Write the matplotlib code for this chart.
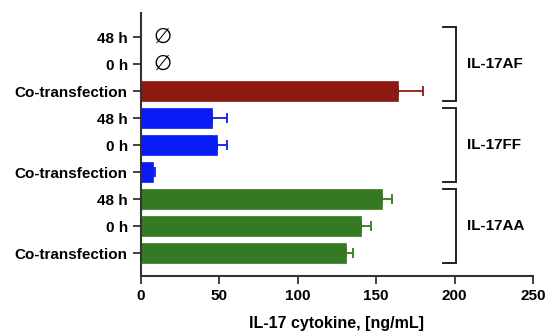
import matplotlib
matplotlib.use("Agg")
import matplotlib.pyplot as plt

# rows from bottom to top
row_labels = ["Co-transfection", "0 h", "48 h",
              "Co-transfection", "0 h", "48 h",
              "Co-transfection", "0 h", "48 h"]
aa_means = [131, 140, 154]
aa_errs = [4.5, 6.5, 6]
ff_means = [7.7, 48.3, 45.3]
ff_errs = [1.5, 6.5, 9.5]
af_means = [164]
af_errs = [16]
groups = ["IL-17AA", "IL-17FF", "IL-17AF"]
missing_rows = [7, 8]  # AF 0 h and 48 h, no data

plt.rcParams['font.family'] = ['Liberation Sans', 'DejaVu Sans']
plt.rcParams['font.weight'] = 'bold'

fig = plt.figure(figsize=(5.52, 3.33), dpi=100)
ax = fig.add_axes([0.2554, 0.171, 0.7102, 0.79])

series = [(aa_means, aa_errs, "#357a22", 0),
          (ff_means, ff_errs, "#0a1cf5", 3),
          (af_means, af_errs, "#8c1a12", 6)]
for means, errs, col, start in series:
    ys = list(range(start, start + len(means)))
    ax.barh(ys, means, height=0.76, color=col, edgecolor=col, linewidth=0.5)
    ax.errorbar(means, ys, xerr=[[0] * len(errs), errs], fmt='none',
                ecolor=col, elinewidth=1.3, capsize=3.5, capthick=1.3)

for r in missing_rows:
    ax.text(14, r, "\u2205", ha='center', va='center', fontsize=15,
            fontweight='normal', family='DejaVu Sans')

# group brackets on the right
for i, g in enumerate(groups):
    c = 3 * i + 1
    lo, hi = c - 1.37, c + 1.37
    ax.plot([192.7, 201, 201, 192.7], [hi, hi, lo, lo], color='#222222',
            lw=1.4, clip_on=False, solid_joinstyle='miter')
    ax.text(208, c, g, ha='left', va='center', fontsize=11,
            fontweight='bold', clip_on=False)

ax.set_xlim(0, 250)
ax.set_ylim(-0.85, 8.89)
ax.set_xticks([0, 50, 100, 150, 200, 250])
ax.set_yticks(range(len(row_labels)))
ax.set_yticklabels(row_labels)
ax.tick_params(labelsize=11, width=1.3, length=6, color='#333333')
ax.tick_params(axis='x', pad=3)
for lab in ax.get_xticklabels() + ax.get_yticklabels():
    lab.set_fontweight('bold')
for s in ['top', 'right']:
    ax.spines[s].set_visible(False)
for s in ['left', 'bottom']:
    ax.spines[s].set_linewidth(1.5)
    ax.spines[s].set_color('#333333')
ax.set_xlabel("IL-17 cytokine, [ng/mL]", fontsize=11.5, fontweight='bold',
              labelpad=10)

fig.savefig("out.png", dpi=100)
